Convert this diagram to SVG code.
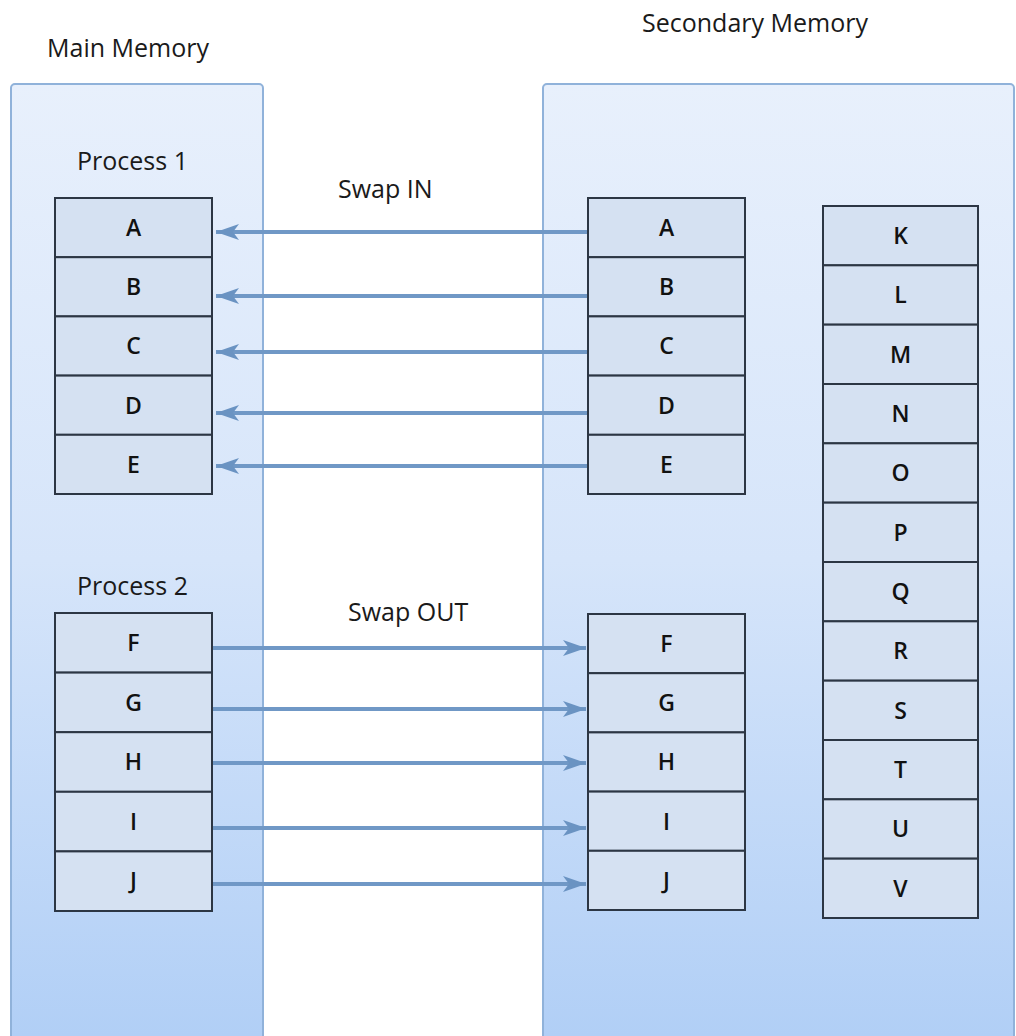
<svg xmlns="http://www.w3.org/2000/svg" width="1016" height="1036" viewBox="0 0 1016 1036">
<defs>
<linearGradient id="pg" gradientUnits="userSpaceOnUse" x1="0" y1="84" x2="0" y2="1036">
<stop offset="0" stop-color="#e8f0fc"/>
<stop offset="0.5" stop-color="#d6e5fa"/>
<stop offset="1" stop-color="#b1cff6"/>
</linearGradient>
<marker id="ah" markerUnits="userSpaceOnUse" markerWidth="24" markerHeight="20" refX="23" refY="10" orient="auto">
<path d="M0,2 L23,10 L0,18 L6,10 Z" fill="#6a93c2"/>
</marker>
<style>
.panel{fill:url(#pg);stroke:#90b2da;stroke-width:2}
.cell rect{fill:#d5e1f2;stroke:#2c3644;stroke-width:2}
.cell text{font-family:"Open Sans","Liberation Sans",sans-serif;font-size:23px;font-weight:600;fill:#111111;text-anchor:middle}
.lbl{font-family:"Open Sans","Liberation Sans",sans-serif;font-size:25px;fill:#1a1a1a}
.conn line{stroke:#7098c6;stroke-width:4;marker-end:url(#ah)}
</style>
</defs>
<rect width="1016" height="1036" fill="#ffffff"/>
<g id="main-memory">
<rect class="panel" x="11" y="84" width="252" height="970" rx="4"/>
<text class="lbl" x="47" y="57" font-size="26">Main Memory</text>
</g>
<g id="secondary-memory">
<rect class="panel" x="543" y="84" width="471" height="970" rx="4"/>
<text class="lbl" x="642" y="32" font-size="26">Secondary Memory</text>
</g>
<text class="lbl" x="77" y="170">Process 1</text>
<text class="lbl" x="77" y="595">Process 2</text>
<text class="lbl" x="338" y="198">Swap IN</text>
<text class="lbl" x="348" y="621">Swap OUT</text>

<g id="m-A" class="cell"><rect x="55" y="198" width="157" height="59.2"/><text x="133.5" y="236">A</text></g>
<g id="m-B" class="cell"><rect x="55" y="257.2" width="157" height="59.2"/><text x="133.5" y="295.2">B</text></g>
<g id="m-C" class="cell"><rect x="55" y="316.4" width="157" height="59.2"/><text x="133.5" y="354.4">C</text></g>
<g id="m-D" class="cell"><rect x="55" y="375.6" width="157" height="59.2"/><text x="133.5" y="413.6">D</text></g>
<g id="m-E" class="cell"><rect x="55" y="434.8" width="157" height="59.2"/><text x="133.5" y="472.8">E</text></g>

<g id="m-F" class="cell"><rect x="55" y="613" width="157" height="59.6"/><text x="133.5" y="651">F</text></g>
<g id="m-G" class="cell"><rect x="55" y="672.6" width="157" height="59.6"/><text x="133.5" y="710.6">G</text></g>
<g id="m-H" class="cell"><rect x="55" y="732.2" width="157" height="59.6"/><text x="133.5" y="770.2">H</text></g>
<g id="m-I" class="cell"><rect x="55" y="791.8" width="157" height="59.6"/><text x="133.5" y="829.8">I</text></g>
<g id="m-J" class="cell"><rect x="55" y="851.4" width="157" height="59.6"/><text x="133.5" y="889.4">J</text></g>

<g id="s-A" class="cell"><rect x="588" y="198" width="157" height="59.2"/><text x="666.5" y="236">A</text></g>
<g id="s-B" class="cell"><rect x="588" y="257.2" width="157" height="59.2"/><text x="666.5" y="295.2">B</text></g>
<g id="s-C" class="cell"><rect x="588" y="316.4" width="157" height="59.2"/><text x="666.5" y="354.4">C</text></g>
<g id="s-D" class="cell"><rect x="588" y="375.6" width="157" height="59.2"/><text x="666.5" y="413.6">D</text></g>
<g id="s-E" class="cell"><rect x="588" y="434.8" width="157" height="59.2"/><text x="666.5" y="472.8">E</text></g>

<g id="s-F" class="cell"><rect x="588" y="614" width="157" height="59.2"/><text x="666.5" y="652">F</text></g>
<g id="s-G" class="cell"><rect x="588" y="673.2" width="157" height="59.2"/><text x="666.5" y="711.2">G</text></g>
<g id="s-H" class="cell"><rect x="588" y="732.4" width="157" height="59.2"/><text x="666.5" y="770.4">H</text></g>
<g id="s-I" class="cell"><rect x="588" y="791.6" width="157" height="59.2"/><text x="666.5" y="829.6">I</text></g>
<g id="s-J" class="cell"><rect x="588" y="850.8" width="157" height="59.2"/><text x="666.5" y="888.8">J</text></g>

<g id="s-K" class="cell"><rect x="823" y="206" width="155" height="59.33"/><text x="900.5" y="244">K</text></g>
<g id="s-L" class="cell"><rect x="823" y="265.33" width="155" height="59.33"/><text x="900.5" y="303.33">L</text></g>
<g id="s-M" class="cell"><rect x="823" y="324.67" width="155" height="59.33"/><text x="900.5" y="362.67">M</text></g>
<g id="s-N" class="cell"><rect x="823" y="384" width="155" height="59.33"/><text x="900.5" y="422">N</text></g>
<g id="s-O" class="cell"><rect x="823" y="443.33" width="155" height="59.33"/><text x="900.5" y="481.33">O</text></g>
<g id="s-P" class="cell"><rect x="823" y="502.67" width="155" height="59.33"/><text x="900.5" y="540.67">P</text></g>
<g id="s-Q" class="cell"><rect x="823" y="562" width="155" height="59.33"/><text x="900.5" y="600">Q</text></g>
<g id="s-R" class="cell"><rect x="823" y="621.33" width="155" height="59.33"/><text x="900.5" y="659.33">R</text></g>
<g id="s-S" class="cell"><rect x="823" y="680.67" width="155" height="59.33"/><text x="900.5" y="718.67">S</text></g>
<g id="s-T" class="cell"><rect x="823" y="740" width="155" height="59.33"/><text x="900.5" y="778">T</text></g>
<g id="s-U" class="cell"><rect x="823" y="799.33" width="155" height="59.33"/><text x="900.5" y="837.33">U</text></g>
<g id="s-V" class="cell"><rect x="823" y="858.67" width="155" height="59.33"/><text x="900.5" y="896.67">V</text></g>

<g id="connectors" class="conn">
<line x1="587" y1="232" x2="216" y2="232"/>
<line x1="587" y1="296" x2="216" y2="296"/>
<line x1="587" y1="352" x2="216" y2="352"/>
<line x1="587" y1="413" x2="216" y2="413"/>
<line x1="587" y1="466" x2="216" y2="466"/>
<line x1="213" y1="648" x2="586" y2="648"/>
<line x1="213" y1="709" x2="586" y2="709"/>
<line x1="213" y1="763" x2="586" y2="763"/>
<line x1="213" y1="828" x2="586" y2="828"/>
<line x1="213" y1="884" x2="586" y2="884"/>
</g>
</svg>
